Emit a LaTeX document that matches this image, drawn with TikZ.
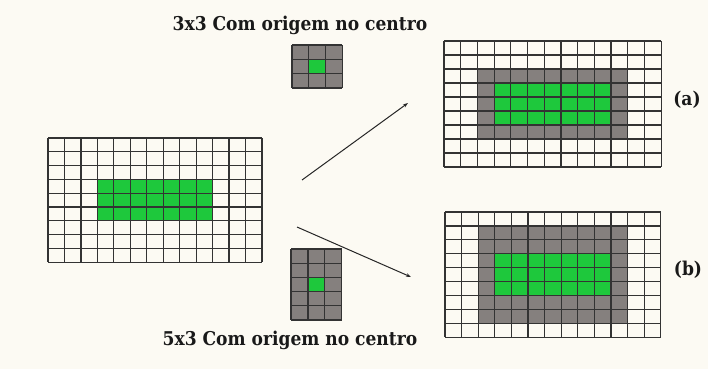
\documentclass[tikz,border=0pt]{standalone}
\usepackage{fontspec}
\newfontfamily\labfont{DejaVu Serif Condensed}[BoldFont={DejaVu Serif Condensed Bold}]
\usetikzlibrary{arrows.meta}
\definecolor{bgc}{HTML}{FCFAF3}
\definecolor{grn}{HTML}{1EC83C}
\definecolor{gry}{HTML}{85807E}
\definecolor{lnc}{HTML}{333333}
\tikzset{
  gl/.style={draw=lnc, line width=1.2pt},
  greenfill/.style={fill=grn},
  greyfill/.style={fill=gry},
  lab/.style={font=\labfont\bfseries\fontsize{19}{21}\selectfont, text=black!90, inner sep=0pt},
  conn/.style={draw=black!85, line width=1pt, -{Stealth[length=5pt,width=3.5pt]}},
}
\newcommand\cellgrid[6]{%
  \foreach \i in {0,...,#3} \draw[gl] ({#1+\i*#5},#2) -- ++(0,{#4*#6});
  \foreach \j in {0,...,#4} \draw[gl] (#1,{#2+\j*#6}) -- ++({#3*#5},0);
}
\begin{document}
\begin{tikzpicture}[x=1pt,y=-1pt]
\fill[bgc] (0,0) rectangle (708,369);
\useasboundingbox (0,0) rectangle (708,369);
% left input grid 13x9
\fill[greenfill] ({48+3*16.46},{138+3*13.8}) rectangle ({48+10*16.46},{138+6*13.8});
\cellgrid{48}{138}{13}{9}{16.46}{13.8}
% (a)
\fill[greyfill] ({444+2*16.7},{41+2*14}) rectangle ({444+11*16.7},{41+7*14});
\fill[greenfill] ({444+3*16.7},{41+3*14}) rectangle ({444+10*16.7},{41+6*14});
\cellgrid{444}{41}{13}{9}{16.7}{14}
% (b)
\fill[greyfill] ({445+2*16.6},{212+1*13.9}) rectangle ({445+11*16.6},{212+8*13.9});
\fill[greenfill] ({445+3*16.6},{212+3*13.9}) rectangle ({445+10*16.6},{212+6*13.9});
\cellgrid{445}{212}{13}{9}{16.6}{13.9}
% kernel 3x3
\fill[greyfill] (292,45) rectangle ({292+3*16.7},{45+3*14.3});
\fill[greenfill] ({292+16.7},{45+14.3}) rectangle ({292+2*16.7},{45+2*14.3});
\cellgrid{292}{45}{3}{3}{16.7}{14.3}
% kernel 5x3
\fill[greyfill] (291,249) rectangle ({291+3*16.9},{249+5*14.2});
\fill[greenfill] ({291+16.9},{249+2*14.2}) rectangle ({291+2*16.9},{249+3*14.2});
\cellgrid{291}{249}{3}{5}{16.9}{14.2}
% labels
\node[lab] (t1) at (300,25) {3x3 Com origem no centro};
\node[lab] (t2) at (290,340) {5x3 Com origem no centro};
\node[lab] (la) at (687,100) {(a)};
\node[lab] (lb) at (688,270) {(b)};
% connectors
\coordinate (a1) at (302,180);
\coordinate (a2) at (408,103);
\coordinate (b1) at (297,227);
\coordinate (b2) at (411,277);
\draw[conn] (a1) -- (a2);
\draw[conn] (b1) -- (b2);
\end{tikzpicture}
\end{document}
